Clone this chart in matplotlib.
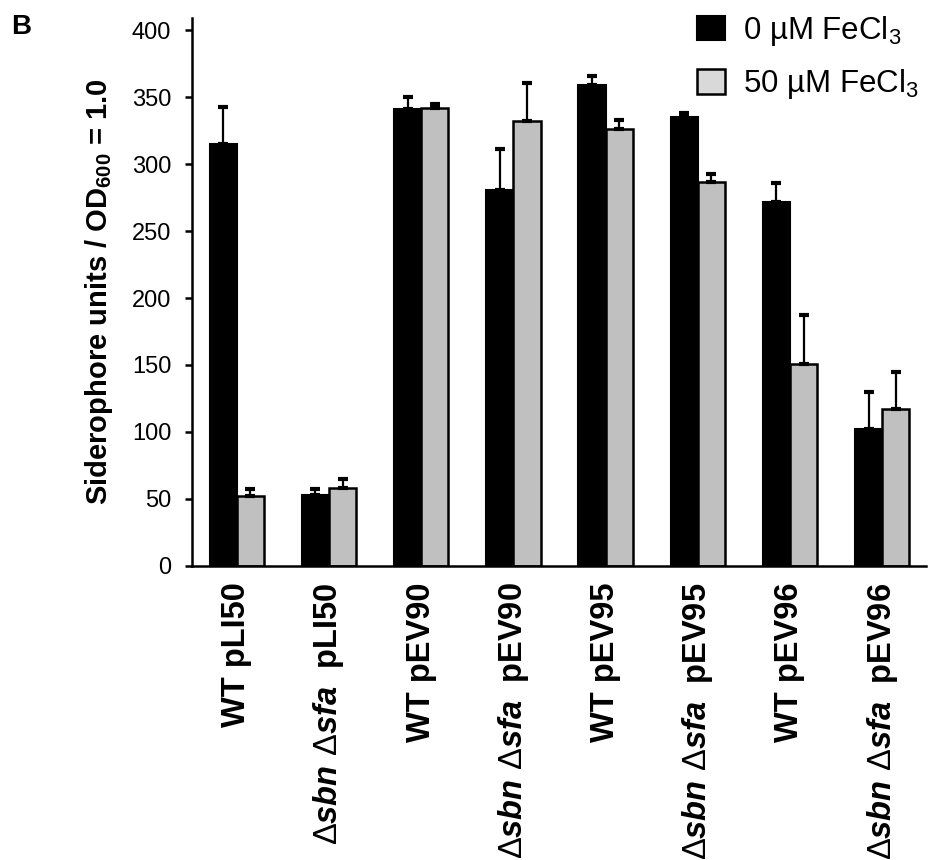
import numpy as np
import matplotlib
matplotlib.use("Agg")
import matplotlib.pyplot as plt
from matplotlib.patches import Patch

# --- Data ---
strains = [
    "WT pLI50",
    r"$\mathrm{\Delta}\mathit{sbn}\ \mathrm{\Delta}\mathit{sfa}$  pLI50",
    "WT pEV90",
    r"$\mathrm{\Delta}\mathit{sbn}\ \mathrm{\Delta}\mathit{sfa}$  pEV90",
    "WT pEV95",
    r"$\mathrm{\Delta}\mathit{sbn}\ \mathrm{\Delta}\mathit{sfa}$  pEV95",
    "WT pEV96",
    r"$\mathrm{\Delta}\mathit{sbn}\ \mathrm{\Delta}\mathit{sfa}$  pEV96",
]
fe0_mean = [315, 53, 341, 281, 359, 335, 272, 102]
fe0_err = [28, 4, 9, 30, 7, 3, 14, 28]
fe50_mean = [52, 58, 342, 332, 326, 287, 151, 117]
fe50_err = [5, 7, 3, 29, 7, 6, 36, 28]

series_labels = [r"0 µM FeCl$_3$", r"50 µM FeCl$_3$"]
yticks = [0, 50, 100, 150, 200, 250, 300, 350, 400]

# --- Fonts ---
plt.rcParams["font.family"] = ["Liberation Sans", "DejaVu Sans"]
plt.rcParams["mathtext.fontset"] = "custom"
plt.rcParams["mathtext.rm"] = "Liberation Sans"
plt.rcParams["mathtext.it"] = "Liberation Sans:italic:bold"
plt.rcParams["mathtext.bf"] = "Liberation Sans:bold"

fig = plt.figure(figsize=(9.33, 8.6), dpi=100)
ax = fig.add_axes([0.2058, 0.3422, 0.7867, 0.6365])

x = np.arange(len(strains))
w = 0.295

ekw = dict(elinewidth=1.6, capsize=3.5, capthick=3, ecolor="black")
ax.bar(x - w / 2, fe0_mean, w, color="black", edgecolor="black", linewidth=1.5,
       yerr=[np.zeros(len(fe0_err)), fe0_err], error_kw=ekw, zorder=2)
ax.bar(x + w / 2, fe50_mean, w, color="#c0c0c0", edgecolor="black", linewidth=1.8,
       yerr=[np.zeros(len(fe50_err)), fe50_err], error_kw=ekw, zorder=2)

ax.set_xlim(-0.485, 7.476)
ax.set_ylim(0, 409)
ax.set_yticks(yticks)
ax.tick_params(axis="y", labelsize=17, direction="out", length=5, width=1.8, pad=10)
ax.set_xticks(x)
ax.set_xticklabels(strains, rotation=90, fontsize=23.5, fontweight="bold")
ax.tick_params(axis="x", length=0, pad=12)

for side in ["top", "right"]:
    ax.spines[side].set_visible(False)
for side in ["left", "bottom"]:
    ax.spines[side].set_linewidth(1.8)

ax.set_ylabel(r"Siderophore units / OD$_{\mathbf{600}}$ = 1.0", fontsize=21,
              fontweight="bold", labelpad=12)

handles = [Patch(facecolor="black", edgecolor="black", linewidth=1.5),
           Patch(facecolor="#d9d9d9", edgecolor="black", linewidth=1.8)]
fig.legend(handles, series_labels, loc="upper left",
           bbox_to_anchor=(697 / 933, 1 - 14 / 860), frameon=False,
           fontsize=22.5, handlelength=0.9, handleheight=0.83,
           handletextpad=0.58, labelspacing=0.62, borderpad=0, borderaxespad=0)

fig.text(0.0115, 0.961, "B", fontsize=20, fontweight="bold")

fig.savefig("out.png", dpi=100)
